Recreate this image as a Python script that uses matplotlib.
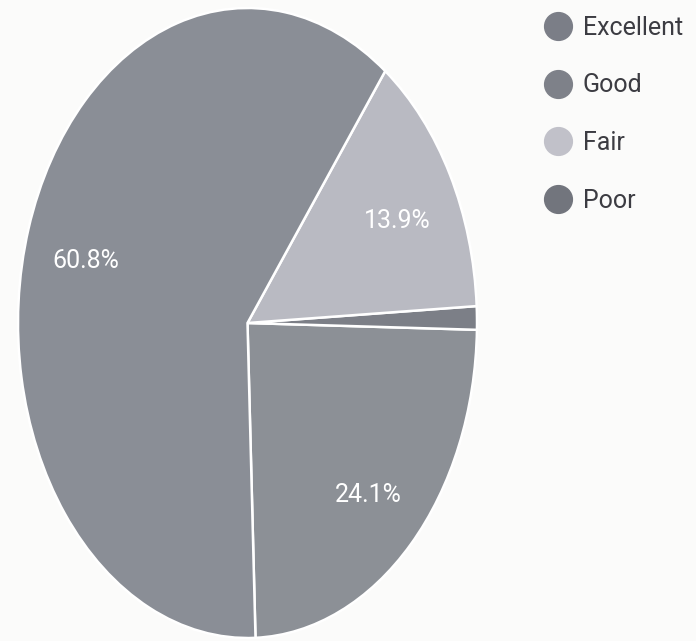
import matplotlib.pyplot as plt
from matplotlib.lines import Line2D

# Data
labels = ["Excellent", "Good", "Fair", "Poor"]
shares = [60.8, 24.1, 13.9, 1.2]

# Colours (scanned grey tones)
colours = ["#8a8e96", "#8c9096", "#b9bac2", "#7c7f87"]
legend_colours = ["#7b7e87", "#7e8189", "#c1c1c9", "#72757d"]

# wedges go counter-clockwise from the bottom: Good, Poor, Fair, Excellent
draw_order = [1, 3, 2, 0]
font = ["Roboto", "DejaVu Sans"]

fig = plt.figure(figsize=(6.96, 6.41), dpi=100)
fig.patch.set_facecolor("#fbfbfa")

# the scan is stretched vertically, so the pie is an ellipse
ax = fig.add_axes([18 / 696, 3 / 641, 459 / 696, 630 / 641])
ax.set_facecolor("none")

wedges, texts, autotexts = ax.pie(
    [shares[i] for i in draw_order],
    colors=[colours[i] for i in draw_order],
    startangle=-88.0,
    counterclock=True,
    autopct=lambda p: f"{p:.1f}%" if p > 5 else "",
    pctdistance=0.74,
    wedgeprops=dict(edgecolor="white", linewidth=1.8),
    textprops=dict(color="white", fontsize=18, family=font),
)
for t in autotexts:
    x, y = t.get_position()
    t.set_position((x, y - 0.025))
ax.set_aspect("auto")
ax.set_xlim(-1, 1)
ax.set_ylim(-1, 1)
ax.axis("off")

# Legend
handles = [
    Line2D([], [], marker="o", linestyle="", markersize=20,
           markerfacecolor=c, markeredgecolor=c)
    for c in legend_colours
]
fig.legend(
    handles, labels,
    loc="upper left",
    bbox_to_anchor=(543 / 696, 1 - 16 / 641),
    frameon=False,
    prop={"family": font, "size": 18},
    labelcolor="#3c3c42",
    labelspacing=1.34,
    handletextpad=0.4,
    handlelength=1.2,
    borderpad=0,
    borderaxespad=0,
)

plt.savefig("out.png", dpi=100, facecolor=fig.get_facecolor())
